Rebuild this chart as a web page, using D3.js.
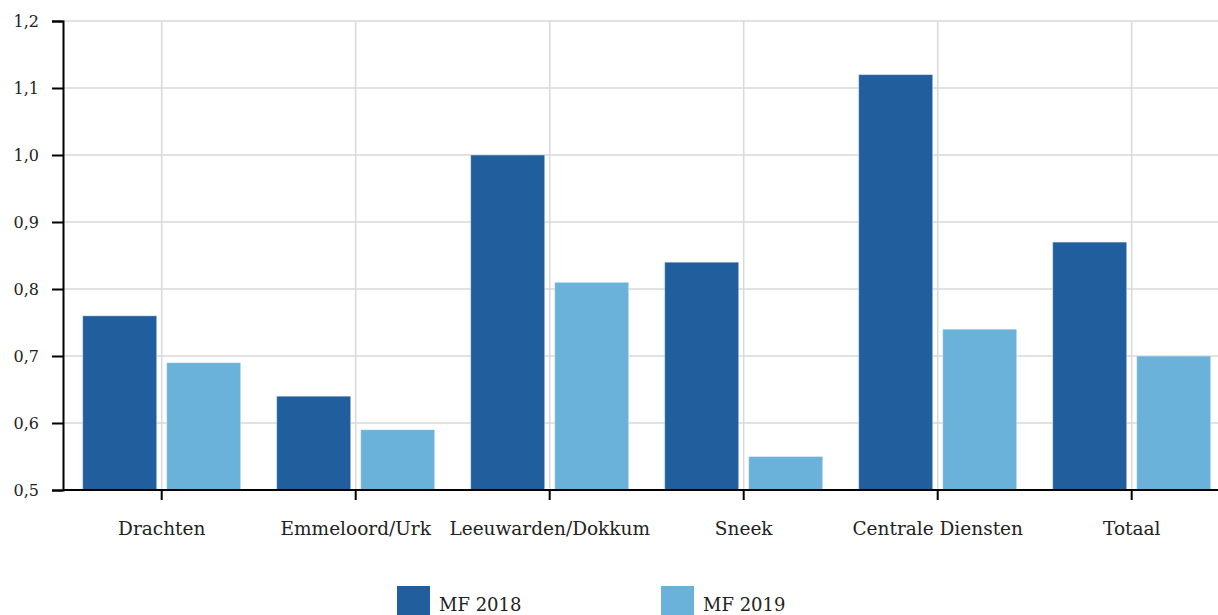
<!DOCTYPE html>
<html><head><meta charset="utf-8">
<script src="https://cdn.jsdelivr.net/npm/d3@7"></script>
<style>body{margin:0;background:#fff;overflow:hidden}</style>
</head><body><svg id="c" width="1218" height="615"></svg>
<script>
const categories = ["Drachten","Emmeloord/Urk","Leeuwarden/Dokkum","Sneek","Centrale Diensten","Totaal"];
const seriesNames = ["MF 2018","MF 2019"];
const mf2018 = [0.76,0.64,1.00,0.84,1.12,0.87];
const mf2019 = [0.69,0.59,0.81,0.55,0.74,0.70];
const yTicks = [0.5,0.6,0.7,0.8,0.9,1.0,1.1,1.2];
const colors = ["#215e9e","#6bb2da"];

const svg = d3.select("#c");
const font = "DejaVu Serif";
const x = d3.scaleBand().domain(categories).range([64.7,1228.7]).paddingInner(0).paddingOuter(0);
const xs = d3.scaleBand().domain(seriesNames).range([0,x.bandwidth()]).paddingInner(0.119).paddingOuter(0.214);
const y = d3.scaleLinear().domain([0.5,1.2]).range([490,21]);

// grid
svg.append("g").selectAll("line").data(yTicks.slice(1)).join("line")
  .attr("x1",63).attr("x2",1218).attr("y1",d=>y(d)).attr("y2",d=>y(d))
  .attr("stroke","#d9d9d9").attr("stroke-width",1.5);
svg.append("g").selectAll("line").data(categories).join("line")
  .attr("x1",d=>x(d)+x.bandwidth()/2).attr("x2",d=>x(d)+x.bandwidth()/2)
  .attr("y1",y(1.2)).attr("y2",y(0.5))
  .attr("stroke","#d9d9d9").attr("stroke-width",1.5);

// bars
const rows = categories.map((c,i)=>({c, v:[mf2018[i],mf2019[i]]}));
const g = svg.append("g").selectAll("g").data(rows).join("g").attr("transform",d=>`translate(${x(d.c)},0)`);
g.selectAll("rect").data(d=>d.v.map((v,j)=>({v,s:seriesNames[j],j}))).join("rect")
  .attr("x",d=>xs(d.s)).attr("width",xs.bandwidth())
  .attr("y",d=>y(d.v)).attr("height",d=>y(0.5)-y(d.v))
  .attr("fill",d=>colors[d.j]).attr("stroke","rgba(255,255,255,0.4)").attr("stroke-width",1);

// axes
const fmt = d=>d3.format(".1f")(d).replace(".",",");
const ya = svg.append("g").attr("transform","translate(63,0)")
  .call(d3.axisLeft(y).tickValues(yTicks).tickFormat(fmt).tickSize(11).tickPadding(13));
ya.select(".domain").attr("stroke","#000").attr("stroke-width",2);
ya.selectAll(".tick line").attr("stroke","#000").attr("stroke-width",2);
ya.selectAll("text").attr("font-family",font).attr("font-size",16).attr("fill","#222");

const xa = svg.append("g").attr("transform","translate(0,490)")
  .call(d3.axisBottom(x).tickSize(10).tickPadding(22));
xa.select(".domain").attr("stroke","#000").attr("stroke-width",2).attr("d","M63,0H1218");
xa.selectAll(".tick line").attr("stroke","#000").attr("stroke-width",2);
xa.selectAll("text").attr("font-family",font).attr("font-size",18.5).attr("fill","#222");

// legend
const lx = [397,661];
const leg = svg.append("g").selectAll("g").data(seriesNames).join("g").attr("transform",(d,i)=>`translate(${lx[i]},586)`);
leg.append("rect").attr("width",33).attr("height",33).attr("fill",(d,i)=>colors[i]);
leg.append("text").attr("x",42).attr("y",25).text(d=>d)
  .attr("font-family",font).attr("font-size",18).attr("fill","#222");
</script></body></html>
